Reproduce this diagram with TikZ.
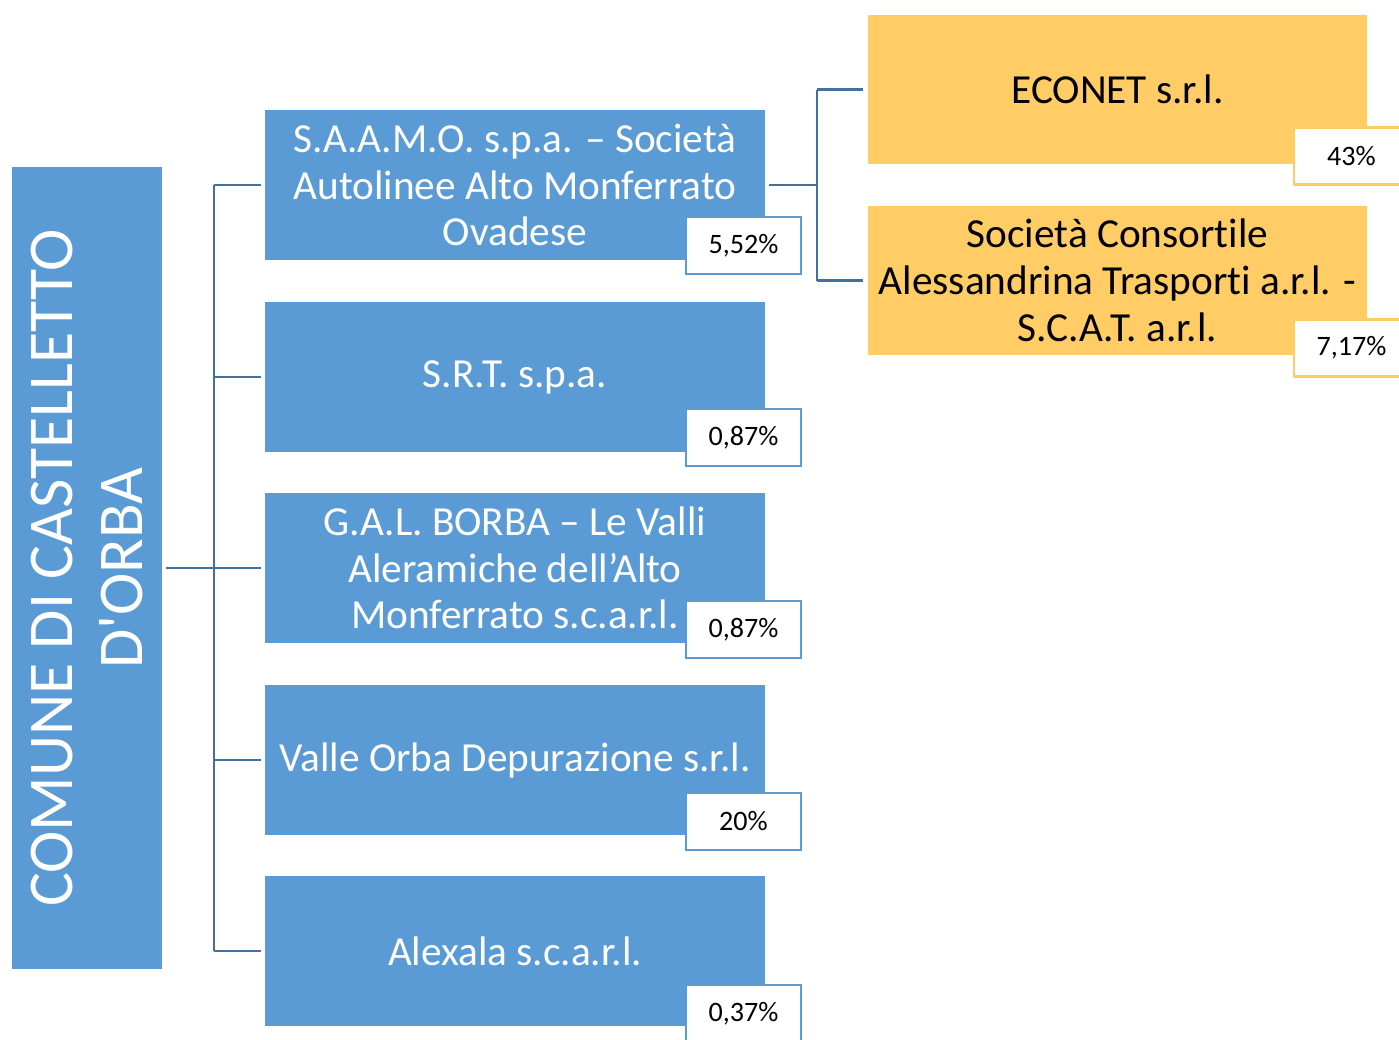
\documentclass[tikz,border=0pt]{standalone}
\usepackage{fontspec}
\setmainfont{Carlito}[Ligatures={NoCommon,TeX}]
\usetikzlibrary{positioning}
\definecolor{boxblue}{HTML}{5B9BD5}
\definecolor{boxorange}{HTML}{FFCC66}
\definecolor{linkblue}{HTML}{41719C}

\begin{document}
\begin{tikzpicture}[x=0.02cm, y=-0.02cm, line width=1.1pt,
    company/.style={rectangle, fill=boxblue, text=white, minimum width=10cm, minimum height=3cm, align=center, inner sep=0pt, font=\fontsize{23.5}{26.6}\selectfont},
    partner/.style={company, fill=boxorange, text=black},
    share/.style={rectangle, draw=boxblue, fill=white, line width=1.3pt, minimum width=2.3cm, minimum height=1.14cm, inner sep=0pt, font=\fontsize{16}{18}\selectfont},
    pshare/.style={share, draw=boxorange},
    link/.style={draw=linkblue, line width=1.6pt}]
                        \useasboundingbox (0, 0) rectangle (1399, 1039);
                        \node [rectangle, fill=boxblue, text=white, rotate=90, minimum width=16.04cm, minimum height=3cm, align=center, inner sep=0pt, font=\fontsize{36.3}{39.7}\selectfont] (root) at (87, 568) {COMUNE DI CASTELLETTO\\D\textquotesingle ORBA};

                        \node [company] (saamo) at (515, 185) {S.A.A.M.O. s.p.a. -- Società\\Autolinee Alto Monferrato\\Ovadese};
                        \node [company] (srt) at (515, 377) {S.R.T. s.p.a.};
                        \node [company] (gal) at (515, 568) {G.A.L. BORBA -- Le Valli\\Aleramiche dell’Alto\\Monferrato s.c.a.r.l.};
                        \node [company] (vod) at (515, 760) {Valle Orba Depurazione s.r.l.};
                        \node [company] (alexala) at (515, 951) {Alexala s.c.a.r.l.};

                        \node [partner] (econet) at (1117.5, 89.5) {ECONET s.r.l.};
                        \node [partner] (scat) at (1117.5, 280.5) {Società Consortile\\Alessandrina Trasporti a.r.l. -\\S.C.A.T. a.r.l.};

                        \node [share] (saamop) at (743.5, 245.5) {5,52\%};
                        \node [share] (srtp) at (743.5, 437.5) {0,87\%};
                        \node [share] (galp) at (743.5, 629.5) {0,87\%};
                        \node [share] (vodp) at (743.5, 821.5) {20\%};
                        \node [share] (alexalap) at (743.5, 1013.5) {0,37\%};
                        \node [pshare] (econetp) at (1351.5, 156) {43\%};
                        \node [pshare] (scatp) at (1351.5, 348) {7,17\%};

                        \coordinate (trunk) at (214, 568);
                        \coordinate (fork) at (817, 185);
                        \path [link] (root.south) ++(3, 0) -- (trunk);
                        \path [link] (saamo.west -| trunk) -- (alexala.west -| trunk);
                        \path [link] (saamo.west -| trunk) -- ([xshift=-2pt]saamo.west);
                        \path [link] (srt.west -| trunk) -- ([xshift=-2pt]srt.west);
                        \path [link] (gal.west -| trunk) -- ([xshift=-2pt]gal.west);
                        \path [link] (vod.west -| trunk) -- ([xshift=-2pt]vod.west);
                        \path [link] (alexala.west -| trunk) -- ([xshift=-2pt]alexala.west);

                        \path [link] ([xshift=2pt]saamo.east) -- (fork);
                        \path [link] (econet.west -| fork) -- (scat.west -| fork);
                        \path [link] (econet.west -| fork) -- ([xshift=-2pt]econet.west);
                        \path [link] (scat.west -| fork) -- ([xshift=-2pt]scat.west);
                    \end{tikzpicture}
\end{document}
